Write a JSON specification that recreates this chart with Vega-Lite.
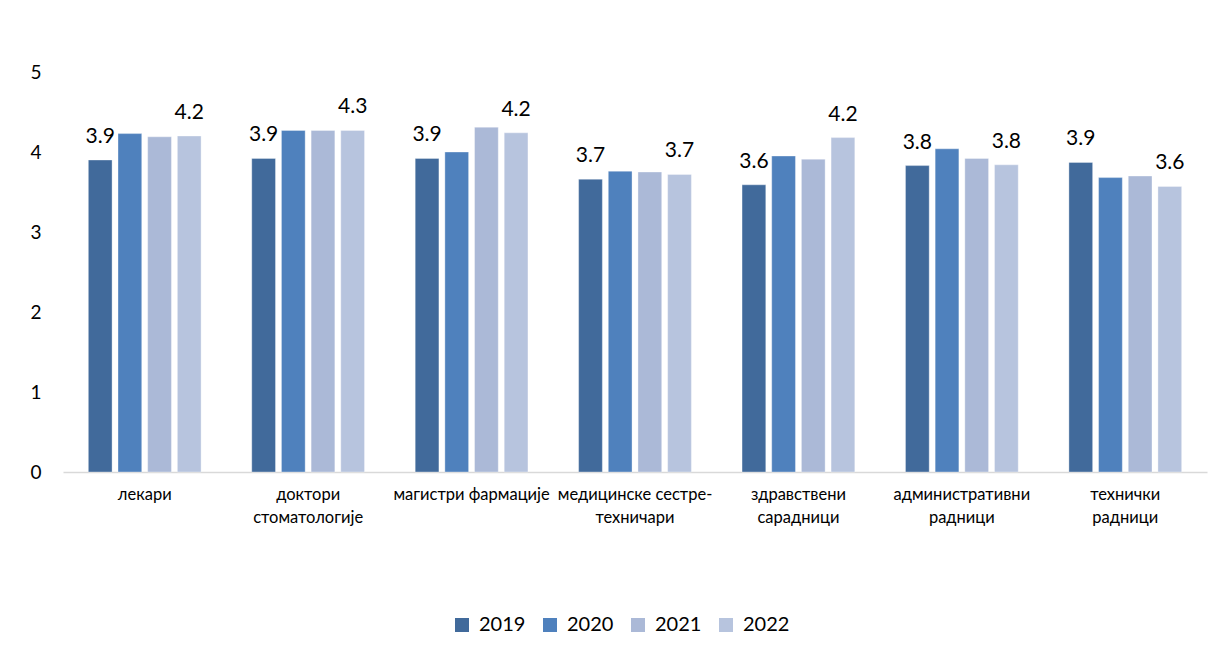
{
  "$schema": "https://vega.github.io/schema/vega-lite/v6.json",
  "width": 1144,
  "height": 400,
  "autosize": {"type": "none"},
  "padding": {"left": 63, "top": 72, "right": 2, "bottom": 188},
  "background": "white",
  "config": {
    "view": {"stroke": null},
    "font": "Lato",
    "axis": {"labelFont": "Lato", "labelColor": "#000000"}
  },
  "data": {
    "values": [
      {"category": "лекари", "year": "2019", "value": 3.9},
      {"category": "лекари", "year": "2020", "value": 4.23},
      {"category": "лекари", "year": "2021", "value": 4.19},
      {"category": "лекари", "year": "2022", "value": 4.2},
      {"category": "доктори|стоматологије", "year": "2019", "value": 3.92},
      {"category": "доктори|стоматологије", "year": "2020", "value": 4.27},
      {"category": "доктори|стоматологије", "year": "2021", "value": 4.27},
      {"category": "доктори|стоматологије", "year": "2022", "value": 4.27},
      {"category": "магистри фармације", "year": "2019", "value": 3.92},
      {"category": "магистри фармације", "year": "2020", "value": 4.0},
      {"category": "магистри фармације", "year": "2021", "value": 4.31},
      {"category": "магистри фармације", "year": "2022", "value": 4.24},
      {"category": "медицинске сестре-|техничари", "year": "2019", "value": 3.66},
      {"category": "медицинске сестре-|техничари", "year": "2020", "value": 3.76},
      {"category": "медицинске сестре-|техничари", "year": "2021", "value": 3.75},
      {"category": "медицинске сестре-|техничари", "year": "2022", "value": 3.72},
      {"category": "здравствени|сарадници", "year": "2019", "value": 3.59},
      {"category": "здравствени|сарадници", "year": "2020", "value": 3.95},
      {"category": "здравствени|сарадници", "year": "2021", "value": 3.91},
      {"category": "здравствени|сарадници", "year": "2022", "value": 4.18},
      {"category": "административни|радници", "year": "2019", "value": 3.83},
      {"category": "административни|радници", "year": "2020", "value": 4.04},
      {"category": "административни|радници", "year": "2021", "value": 3.92},
      {"category": "административни|радници", "year": "2022", "value": 3.84},
      {"category": "технички|радници", "year": "2019", "value": 3.87},
      {"category": "технички|радници", "year": "2020", "value": 3.68},
      {"category": "технички|радници", "year": "2021", "value": 3.7},
      {"category": "технички|радници", "year": "2022", "value": 3.57}
    ]
  },
  "encoding": {
    "x": {
      "field": "category",
      "type": "nominal",
      "sort": null,
      "scale": {"paddingInner": 0.31, "paddingOuter": 0.155},
      "axis": {
        "title": null,
        "labelAngle": 0,
        "labelExpr": "split(datum.label, '|')",
        "labelFontSize": 16.5,
        "labelLineHeight": 23,
        "labelPadding": 14,
        "labelBaseline": "top",
        "labelOverlap": false,
        "ticks": false,
        "domainColor": "#d9d9d9",
        "domainWidth": 1.5
      }
    },
    "xOffset": {
      "field": "year",
      "type": "nominal",
      "scale": {"paddingInner": 0.2, "paddingOuter": 0}
    },
    "y": {
      "field": "value",
      "type": "quantitative",
      "scale": {"domain": [0, 5], "nice": false},
      "axis": {
        "title": null,
        "values": [0, 1, 2, 3, 4, 5],
        "grid": false,
        "ticks": false,
        "domain": false,
        "labelFontSize": 19,
        "labelPadding": 22
      }
    }
  },
  "layer": [
    {
      "mark": {"type": "bar", "stroke": "#ffffff", "strokeOpacity": 0.35, "strokeWidth": 1},
      "encoding": {
        "color": {
          "field": "year",
          "type": "nominal",
          "scale": {
            "domain": ["2019", "2020", "2021", "2022"],
            "range": ["#416a9b", "#4f81bd", "#abb9d7", "#b7c4de"]
          },
          "legend": {
            "title": null,
            "orient": "none",
            "direction": "horizontal",
            "legendX": 389,
            "legendY": 543,
            "symbolType": "square",
            "symbolSize": 196,
            "symbolStrokeWidth": 0,
            "labelFontSize": 20,
            "labelFont": "Lato",
            "labelColor": "#000000",
            "labelOffset": 7,
            "columnPadding": 14,
            "padding": 0
          }
        }
      }
    },
    {
      "transform": [{"filter": "datum.year == '2019' || datum.year == '2022'"}],
      "mark": {"type": "text", "baseline": "alphabetic", "dy": -17, "fontSize": 21, "color": "#000000", "font": "Lato"},
      "encoding": {
        "text": {"field": "value", "type": "quantitative", "format": ".1f"}
      }
    }
  ]
}
